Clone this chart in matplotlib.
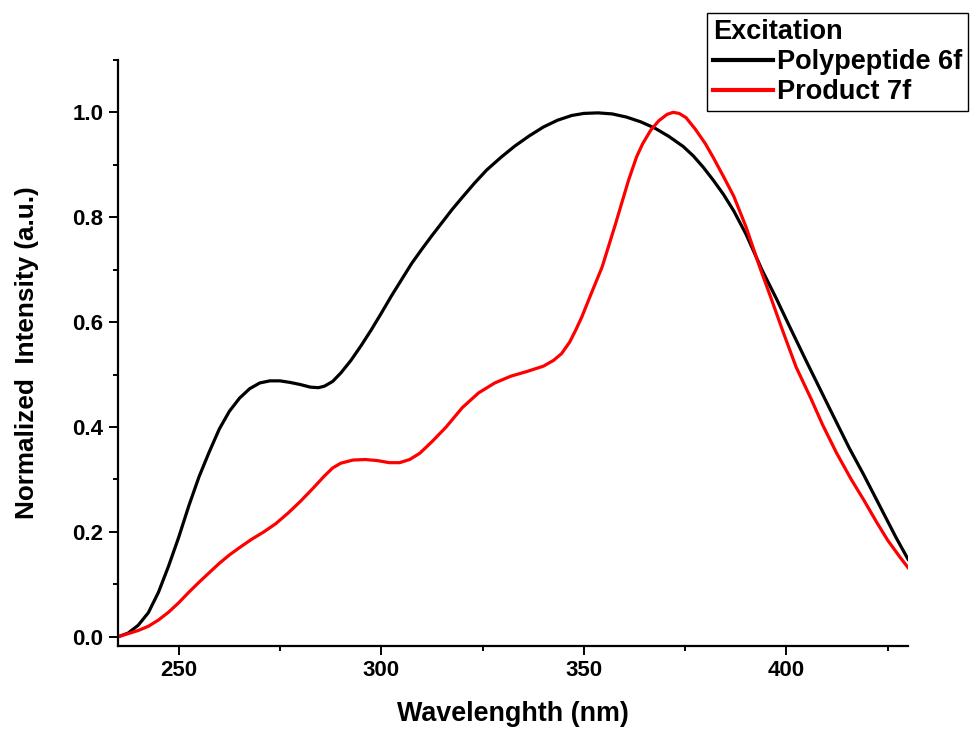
import matplotlib
matplotlib.use("Agg")
import matplotlib.pyplot as plt
from matplotlib.ticker import MultipleLocator

plt.rcParams['font.family'] = ['Liberation Sans', 'DejaVu Sans']
plt.rcParams['font.weight'] = 'bold'

# Excitation spectra (wavelength in nm, normalized intensity)
wl_6f = [235, 237.5, 240, 242.5, 245, 247.5, 250, 252.5, 255, 257.5, 260, 262.5,
         265, 267.5, 270, 272.5, 275, 277.5, 280, 282.5, 284.5, 286, 288, 290,
         292.5, 295, 297.5, 300, 302.5, 305, 307.5, 310, 312.5, 315, 317.5, 320,
         323, 326, 329.5, 333, 336.5, 340, 343.5, 347, 350, 353.5, 357, 360.5,
         364, 367.5, 371, 374.5, 377, 379.5, 382, 384.5, 387, 390, 394, 397.5,
         401, 405, 408, 411, 415.5, 419, 422, 424, 427, 430]
int_6f = [0.0, 0.007, 0.022, 0.046, 0.085, 0.135, 0.19, 0.25, 0.305, 0.352, 0.396, 0.43,
          0.455, 0.473, 0.484, 0.488, 0.488, 0.485, 0.481, 0.476, 0.475, 0.478, 0.487, 0.503,
          0.527, 0.555, 0.585, 0.617, 0.65, 0.681, 0.712, 0.739, 0.765, 0.79, 0.815, 0.838,
          0.865, 0.89, 0.914, 0.936, 0.955, 0.972, 0.985, 0.994, 0.998, 0.999, 0.997, 0.991,
          0.982, 0.97, 0.954, 0.935, 0.917, 0.895, 0.87, 0.843, 0.812, 0.768, 0.699, 0.645,
          0.588, 0.524, 0.477, 0.43, 0.36, 0.31, 0.265, 0.235, 0.19, 0.148]

wl_7f = [235, 237.5, 240, 242.5, 245, 247.5, 250, 252.5, 255, 257.5, 260, 262.5,
         265, 268, 271, 274, 277, 280, 283, 286, 288, 290, 293, 296, 299, 302,
         304.5, 307, 309.5, 312.5, 316, 320, 324, 328, 332, 336, 340, 342.5, 344.5,
         346.5, 348, 349.5, 352, 354.5, 357.8, 361, 363, 364.5, 366.5, 368.5, 370.5,
         372, 373.5, 375.2, 377.5, 380, 382, 384.5, 387, 390, 393.4, 396, 399,
         402.4, 406, 409, 412.4, 416, 419, 422.3, 425, 428, 430]
int_7f = [0.0, 0.006, 0.012, 0.02, 0.032, 0.047, 0.065, 0.085, 0.104, 0.122, 0.14, 0.156,
          0.17, 0.186, 0.2, 0.216, 0.236, 0.258, 0.282, 0.307, 0.322, 0.331, 0.337, 0.338, 0.336, 0.332,
          0.332, 0.338, 0.35, 0.372, 0.4, 0.437, 0.465, 0.484, 0.497, 0.506, 0.516, 0.527, 0.54,
          0.562, 0.585, 0.61, 0.658, 0.705, 0.787, 0.87, 0.915, 0.94, 0.966, 0.984, 0.996,
          1.0, 0.998, 0.99, 0.968, 0.94, 0.913, 0.877, 0.84, 0.782, 0.705, 0.65, 0.585,
          0.514, 0.455, 0.403, 0.35, 0.3, 0.262, 0.218, 0.184, 0.152, 0.132]

x_ticks = [250, 300, 350, 400]
y_ticks = [0.0, 0.2, 0.4, 0.6, 0.8, 1.0]

fig = plt.figure(figsize=(9.71, 7.35), dpi=100)
ax = fig.add_axes([0.1215, 0.1215, 0.8136, 0.797])

ax.plot(wl_6f, int_6f, color='black', lw=2.3, label='Polypeptide 6f', solid_joinstyle='round')
ax.plot(wl_7f, int_7f, color='#ff0000', lw=2.3, label='Product 7f', solid_joinstyle='round')

ax.set_xlim(235, 430)
ax.set_ylim(-0.017, 1.1)
ax.set_xticks(x_ticks)
ax.set_yticks(y_ticks)
ax.set_yticklabels([f"{v:.1f}" for v in y_ticks])
ax.xaxis.set_minor_locator(MultipleLocator(25))
ax.yaxis.set_minor_locator(MultipleLocator(0.1))

for side in ('top', 'right'):
    ax.spines[side].set_visible(False)
for side in ('left', 'bottom'):
    ax.spines[side].set_linewidth(1.6)

ax.tick_params(axis='both', which='major', direction='out', length=6.5, width=1.4,
               labelsize=16, pad=4)
ax.tick_params(axis='both', which='minor', direction='out', length=3.6, width=1.4)
for lab in ax.get_xticklabels() + ax.get_yticklabels():
    lab.set_fontweight('bold')

ax.set_xlabel('Wavelenghth (nm)', fontsize=19.4, fontweight='bold', labelpad=14)
ax.set_ylabel('Normalized  Intensity (a.u.)', fontsize=18.8, fontweight='bold', labelpad=24)

leg = fig.legend(loc='upper right', bbox_to_anchor=(968 / 971, 1 - 13 / 735),
                 title='Excitation', frameon=True, fancybox=False, framealpha=1,
                 edgecolor='black', fontsize=19.5, title_fontsize=19.5,
                 handlelength=2.2, handletextpad=0.15, borderpad=0.22,
                 labelspacing=0.15, borderaxespad=0, alignment='left')
leg.get_frame().set_linewidth(1.0)
leg.get_title().set_fontweight('bold')
for t in leg.get_texts():
    t.set_fontweight('bold')
for h in leg.legend_handles:
    h.set_linewidth(3.0)

fig.savefig('out.png', dpi=100)
